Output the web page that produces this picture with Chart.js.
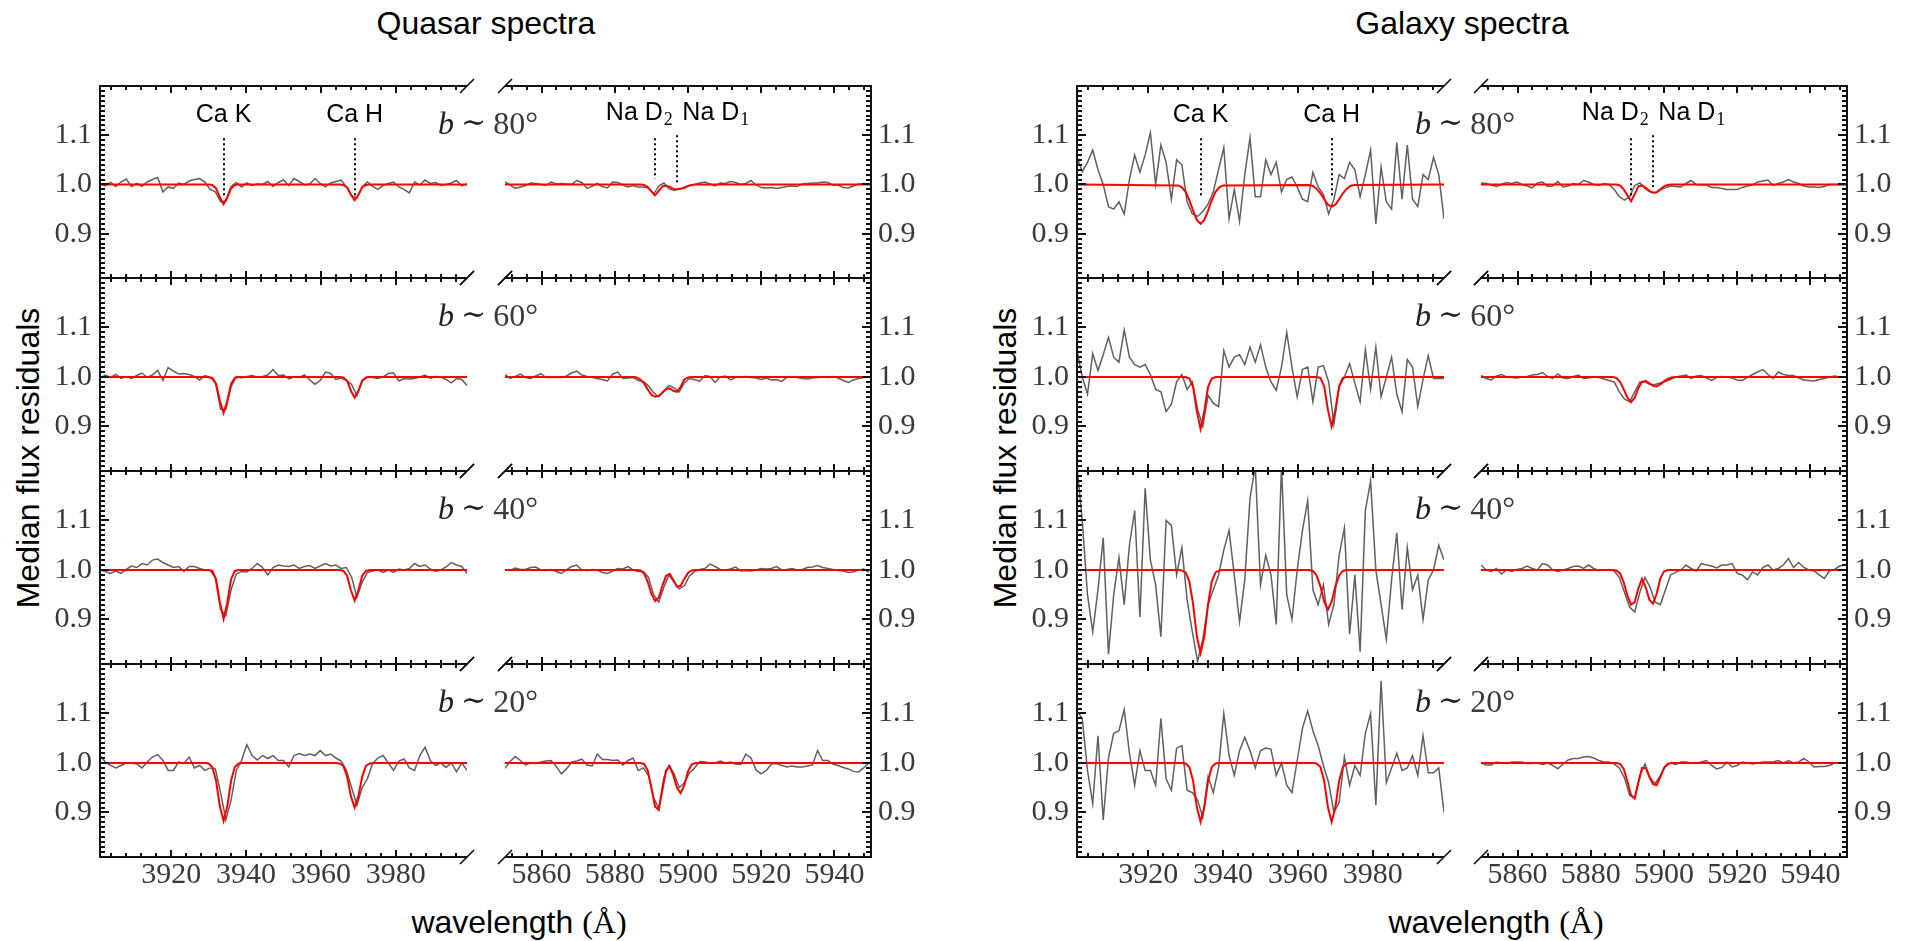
<!DOCTYPE html>
<html lang="en">
<head>
<meta charset="utf-8">
<title>Median flux residuals - quasar and galaxy spectra</title>
<script src="https://cdn.jsdelivr.net/npm/chart.js@4.4.1/dist/chart.umd.min.js"></script>
<style>
  html, body { margin: 0; padding: 0; background: #fff; }
  #figure { position: relative; width: 1911px; height: 941px; overflow: hidden; background: #fff; }
  #figure canvas { position: absolute; }
  .label { position: absolute; font-family: "Liberation Sans", Arial, sans-serif; font-size: 32px; line-height: 32px; color: #000; white-space: nowrap; }
  .centered { transform: translateX(-50%); }
  .ylabel { transform: translate(-50%, -50%) rotate(-90deg); }
  .serif { font-family: "Liberation Serif", "DejaVu Serif", serif; }
</style>
</head>
<body>
<div id="figure">
  <div class="label centered" style="left:486px; top:7px">Quasar spectra</div>
  <div class="label centered" style="left:1462px; top:7px">Galaxy spectra</div>
  <div class="label ylabel" style="left:28px; top:458px">Median flux residuals</div>
  <div class="label ylabel" style="left:1005px; top:458px">Median flux residuals</div>
  <div class="label centered" style="left:519px; top:906px">wavelength <span class="serif">(Å)</span></div>
  <div class="label centered" style="left:1496px; top:906px">wavelength <span class="serif">(Å)</span></div>
</div>
<script>
// wavelength grids (Å) of the stacked residual spectra
const caWave = [3901.0, 3902.4, 3903.8, 3905.2, 3906.6, 3908.0, 3909.4, 3910.8, 3912.2, 3913.6,
  3915.0, 3916.4, 3917.8, 3919.2, 3920.6, 3922.0, 3923.4, 3924.8, 3926.2, 3927.6,
  3929.0, 3930.4, 3931.8, 3933.2, 3934.6, 3936.0, 3937.4, 3938.8, 3940.2, 3941.6,
  3943.0, 3944.4, 3945.8, 3947.2, 3948.6, 3950.0, 3951.4, 3952.8, 3954.2, 3955.6,
  3957.0, 3958.4, 3959.8, 3961.2, 3962.6, 3964.0, 3965.4, 3966.8, 3968.2, 3969.6,
  3971.0, 3972.4, 3973.8, 3975.2, 3976.6, 3978.0, 3979.4, 3980.8, 3982.2, 3983.6,
  3985.0, 3986.4, 3987.8, 3989.2, 3990.6, 3992.0, 3993.4, 3994.8, 3996.2, 3997.6,
  3999.0];
const naWave = [5850.0, 5851.4, 5852.8, 5854.2, 5855.6, 5857.0, 5858.4, 5859.8, 5861.2, 5862.6,
  5864.0, 5865.4, 5866.8, 5868.2, 5869.6, 5871.0, 5872.4, 5873.8, 5875.2, 5876.6,
  5878.0, 5879.4, 5880.8, 5882.2, 5883.6, 5885.0, 5886.4, 5887.8, 5889.2, 5890.6,
  5892.0, 5893.4, 5894.8, 5896.2, 5897.6, 5899.0, 5900.4, 5901.8, 5903.2, 5904.6,
  5906.0, 5907.4, 5908.8, 5910.2, 5911.6, 5913.0, 5914.4, 5915.8, 5917.2, 5918.6,
  5920.0, 5921.4, 5922.8, 5924.2, 5925.6, 5927.0, 5928.4, 5929.8, 5931.2, 5932.6,
  5934.0, 5935.4, 5936.8, 5938.2, 5939.6, 5941.0, 5942.4, 5943.8, 5945.2, 5946.6,
  5948.0, 5949.4];

// wavelengths where the absorption model is sampled
const caFitWave = [3901, 3928, 3929, 3930, 3931, 3932, 3933, 3934, 3935, 3936, 3937, 3938, 3939, 3940,
  3963, 3964, 3965, 3966, 3967, 3968, 3969, 3970, 3971, 3972, 3973, 3974, 3975, 3999];
const naFitWave = [5850, 5884, 5885, 5886, 5887, 5888, 5889, 5890, 5891, 5892, 5893, 5894,
  5895, 5896, 5897, 5898, 5899, 5900, 5901, 5902, 5903, 5904, 5950];

// axis ticks and panel annotations
const caMajorTicks = [3920, 3940, 3960, 3980];
const naMajorTicks = [5860, 5880, 5900, 5920, 5940];
const fluxMajorTicks = [0.9, 1.0, 1.1];
const latitudes = ['80°', '60°', '40°', '20°'];
const caLineNames = ['Ca K', 'Ca H'];
const caLineWave = [3934, 3969];
const naLineNames = [['Na D', '2'], ['Na D', '1']];
const naLineWave = [5891, 5897];
const naLabelWave = [5886.7, 5907.6];

// ---- quasar residuals ----
const qsoCa80 = [1.002, 0.997, 1.004, 0.996, 1.005, 1.011, 0.996, 1.002, 0.996, 1.005,
  1.010, 1.014, 0.985, 0.995, 0.992, 1.003, 1.000, 1.007, 1.010, 1.012,
  1.005, 0.990, 0.985, 0.965, 0.966, 0.996, 1.004, 0.995, 1.003, 0.998,
  1.001, 1.000, 1.006, 0.996, 1.004, 1.009, 0.998, 1.012, 1.006, 0.999,
  1.001, 1.012, 1.002, 0.995, 1.003, 1.006, 1.009, 0.995, 0.978, 0.972,
  0.995, 1.005, 0.996, 0.990, 0.998, 1.002, 1.005, 0.995, 0.990, 0.983,
  1.005, 0.999, 1.009, 1.002, 1.004, 0.998, 1.000, 1.003, 1.008, 0.997,
  1.001];
const qsoCa60 = [0.997, 1.004, 0.999, 1.005, 0.997, 1.001, 0.997, 1.003, 1.008, 0.999,
  1.004, 1.013, 0.993, 1.019, 1.012, 1.006, 1.007, 1.005, 1.001, 0.994,
  1.003, 0.999, 0.990, 0.935, 0.935, 0.980, 1.001, 0.998, 1.001, 1.003,
  1.000, 1.001, 1.004, 1.015, 1.003, 1.004, 0.996, 1.000, 0.999, 1.004,
  0.994, 0.985, 0.993, 1.010, 1.007, 0.995, 0.998, 0.993, 0.985, 0.962,
  0.992, 1.000, 0.999, 0.997, 1.000, 1.007, 1.008, 0.992, 0.997, 0.996,
  0.997, 1.000, 1.004, 0.997, 1.001, 1.000, 0.995, 0.988, 0.997, 0.995,
  0.983];
const qsoCa40 = [1.000, 0.997, 0.993, 0.998, 0.993, 1.001, 1.008, 1.005, 1.013, 1.010,
  1.020, 1.022, 1.015, 1.010, 1.005, 1.007, 0.997, 1.007, 1.007, 1.003,
  1.000, 0.999, 0.985, 0.920, 0.908, 0.960, 0.992, 0.997, 0.996, 1.003,
  1.013, 1.005, 0.990, 1.005, 1.010, 1.008, 1.007, 1.010, 1.003, 1.007,
  1.009, 1.003, 1.008, 1.013, 1.008, 1.010, 1.003, 1.005, 0.985, 0.945,
  0.975, 0.995, 0.998, 1.000, 0.995, 1.000, 0.995, 1.002, 1.000, 1.003,
  1.013, 1.007, 1.010, 1.002, 0.997, 1.000, 1.006, 1.015, 1.010, 1.007,
  0.993];
const qsoCa20 = [1.015, 1.002, 0.995, 0.990, 0.995, 1.000, 1.000, 0.998, 0.990, 1.002,
  1.012, 1.017, 1.005, 0.985, 0.985, 1.002, 0.999, 1.012, 0.990, 0.995,
  0.985, 0.990, 0.988, 0.940, 0.885, 0.925, 0.985, 1.005, 1.037, 1.015,
  1.006, 1.015, 1.009, 1.015, 1.005, 1.005, 0.992, 1.015, 1.019, 1.015,
  1.018, 1.015, 1.025, 1.015, 1.018, 1.010, 1.004, 0.985, 0.950, 0.915,
  0.950, 0.968, 0.999, 1.010, 1.015, 1.000, 0.985, 1.004, 1.008, 0.990,
  0.985, 1.015, 1.032, 1.005, 0.995, 1.000, 0.991, 1.000, 0.982, 1.000,
  0.985];
const qsoNa80 = [1.005, 0.999, 0.992, 0.995, 0.998, 1.003, 1.002, 1.000, 0.998, 1.005,
  1.001, 1.002, 1.001, 1.000, 1.008, 1.004, 0.992, 0.996, 1.002, 0.996,
  0.993, 1.005, 1.004, 0.999, 0.995, 0.998, 0.995, 0.995, 0.993, 0.980,
  0.997, 1.003, 0.991, 0.988, 0.992, 0.992, 0.998, 1.000, 1.003, 1.005,
  1.001, 0.997, 1.003, 1.002, 1.006, 1.004, 1.000, 1.002, 1.008, 0.999,
  0.994, 0.993, 0.994, 0.992, 0.994, 0.996, 0.997, 0.996, 1.001, 1.002,
  1.003, 1.003, 1.005, 1.004, 0.999, 0.999, 0.994, 0.993, 0.997, 1.001,
  1.001, 1.002];
const qsoNa60 = [1.005, 0.997, 1.001, 1.006, 0.999, 0.997, 1.002, 1.007, 0.999, 0.999,
  0.999, 0.999, 1.002, 1.008, 1.012, 1.004, 1.001, 0.999, 0.997, 0.995,
  0.992, 1.006, 1.010, 0.997, 0.998, 0.999, 0.993, 0.991, 0.982, 0.968,
  0.960, 0.972, 0.983, 0.978, 0.970, 0.988, 0.997, 0.995, 0.991, 1.003,
  1.001, 0.989, 1.000, 1.002, 0.994, 0.999, 1.000, 1.001, 0.999, 0.998,
  0.995, 0.998, 0.994, 0.995, 0.991, 0.999, 1.001, 0.999, 0.997, 0.996,
  0.998, 0.999, 1.000, 0.999, 1.001, 0.998, 0.993, 0.989, 0.994, 0.997,
  0.999, 1.000];
const qsoNa40 = [1.000, 0.999, 1.004, 1.001, 1.001, 1.005, 1.006, 1.000, 0.999, 1.001,
  0.997, 0.993, 1.000, 1.007, 1.010, 1.000, 0.999, 1.001, 1.000, 0.995,
  0.993, 0.998, 1.003, 1.002, 1.007, 1.000, 0.997, 0.997, 0.985, 0.950,
  0.935, 0.965, 0.990, 0.975, 0.962, 0.968, 0.988, 0.997, 1.001, 1.003,
  1.012, 1.007, 1.001, 1.000, 1.002, 1.006, 0.998, 0.999, 0.998, 1.000,
  1.003, 1.002, 1.003, 1.007, 1.000, 1.001, 1.003, 1.000, 1.001, 1.005,
  1.006, 1.009, 1.005, 1.003, 1.001, 0.999, 0.998, 0.995, 0.996, 1.000,
  1.002, 0.995];
const qsoNa20 = [0.989, 1.003, 1.013, 1.005, 0.996, 1.000, 0.999, 1.002, 1.004, 1.005,
  0.993, 0.978, 0.988, 1.002, 1.004, 1.008, 0.996, 0.994, 1.018, 1.007,
  1.007, 1.005, 1.006, 0.996, 1.005, 1.010, 0.985, 0.990, 0.975, 0.930,
  0.908, 0.970, 0.995, 0.978, 0.950, 0.960, 0.980, 0.990, 1.003, 1.002,
  1.000, 1.000, 1.004, 1.000, 1.002, 0.998, 0.997, 1.018, 1.010, 0.986,
  0.978, 0.985, 0.998, 0.999, 0.995, 0.992, 0.994, 0.992, 0.992, 0.994,
  0.996, 1.025, 1.005, 1.005, 0.998, 0.995, 0.991, 0.988, 0.983, 0.982,
  0.990, 1.000];

// model fits for the quasar stacks
const qsoFitCa80 = [1, 1, 1, 1, 0.999, 0.992, 0.974, 0.960, 0.974, 0.992, 0.999, 1, 1, 1,
  1, 1, 1, 0.999, 0.994, 0.979, 0.968, 0.979, 0.994, 0.999, 1, 1, 1, 1];
const qsoFitCa60 = [1, 1, 1, 1, 0.998, 0.986, 0.952, 0.927, 0.952, 0.986, 0.998, 1, 1, 1,
  1, 1, 1, 0.999, 0.992, 0.972, 0.958, 0.972, 0.992, 0.999, 1, 1, 1, 1];
const qsoFitCa40 = [1, 1, 1, 1, 0.998, 0.981, 0.935, 0.901, 0.935, 0.981, 0.998, 1, 1, 1,
  1, 1, 1, 0.998, 0.988, 0.959, 0.938, 0.959, 0.988, 0.998, 1, 1, 1, 1];
const qsoFitCa20 = [1, 1, 1, 0.999, 0.992, 0.964, 0.913, 0.883, 0.913, 0.964, 0.992, 0.999, 1, 1,
  1, 1, 0.999, 0.994, 0.972, 0.933, 0.910, 0.933, 0.972, 0.994, 0.999, 1, 1, 1];
const qsoFitNa80 = [1, 1, 1, 1, 1, 0.999, 0.995, 0.986, 0.978, 0.987, 0.996, 0.998,
  0.995, 0.991, 0.990, 0.991, 0.994, 0.997, 0.999, 1, 1, 1, 1];
const qsoFitNa60 = [1, 1, 1, 0.999, 0.995, 0.987, 0.975, 0.964, 0.960, 0.962, 0.968, 0.975,
  0.977, 0.972, 0.970, 0.980, 0.995, 0.999, 1, 1, 1, 1, 1];
const qsoFitNa40 = [1, 1, 1, 1, 0.999, 0.993, 0.976, 0.952, 0.937, 0.944, 0.968, 0.988,
  0.992, 0.980, 0.966, 0.968, 0.982, 0.994, 0.999, 1, 1, 1, 1];
const qsoFitNa20 = [1, 1, 1, 1, 1, 0.998, 0.985, 0.950, 0.912, 0.905, 0.945, 0.985,
  0.993, 0.975, 0.950, 0.939, 0.955, 0.983, 0.997, 1, 1, 1, 1];

// ---- galaxy residuals ----
const galCa80 = [1.056, 1.026, 1.045, 1.070, 1.030, 1.000, 0.955, 0.950, 0.965, 0.940,
  1.010, 1.060, 1.025, 1.060, 1.105, 1.000, 1.080, 1.045, 0.970, 1.050,
  1.040, 0.965, 0.940, 0.935, 0.945, 0.960, 0.985, 1.030, 1.075, 0.930,
  0.990, 0.925, 1.020, 1.095, 0.975, 0.975, 1.050, 1.020, 1.045, 0.985,
  1.010, 1.015, 0.995, 0.970, 0.965, 1.025, 0.995, 0.980, 0.940, 0.970,
  1.020, 1.012, 1.045, 1.030, 0.975, 1.020, 1.070, 0.920, 1.035, 0.965,
  0.950, 1.085, 0.970, 1.080, 0.970, 0.955, 1.020, 1.010, 1.055, 1.020,
  0.930];
const galCa60 = [1.053, 1.000, 0.965, 1.047, 1.013, 1.045, 1.080, 1.040, 1.030, 1.095,
  1.040, 1.025, 1.020, 1.025, 1.005, 0.975, 0.970, 0.930, 0.945, 0.990,
  1.005, 0.975, 0.990, 0.935, 0.900, 0.963, 0.947, 0.940, 1.053, 1.020,
  1.040, 1.045, 1.025, 1.060, 1.030, 1.065, 1.020, 0.990, 0.973, 1.020,
  1.090, 1.020, 0.960, 1.015, 1.020, 0.950, 1.020, 1.023, 0.990, 0.905,
  0.980, 1.000, 1.027, 0.987, 0.950, 1.055, 0.975, 1.060, 0.960, 1.000,
  1.040, 0.965, 0.930, 1.035, 1.020, 0.940, 0.995, 1.043, 0.997, 0.997,
  0.997];
const galCa40 = [1.210, 1.100, 0.950, 0.875, 0.960, 1.065, 0.830, 0.950, 1.025, 0.930,
  1.050, 1.120, 0.905, 1.165, 1.020, 0.970, 0.865, 1.100, 1.090, 0.990,
  1.045, 0.940, 0.875, 0.815, 0.860, 0.930, 0.960, 0.990, 1.040, 1.080,
  0.990, 0.895, 0.980, 1.145, 1.210, 0.970, 1.030, 0.990, 0.890, 1.210,
  0.950, 0.900, 1.000, 1.080, 1.140, 0.960, 0.930, 0.970, 0.890, 0.930,
  1.030, 1.085, 0.870, 0.990, 0.835, 1.120, 1.180, 1.000, 0.930, 0.860,
  0.980, 1.075, 0.920, 1.045, 0.960, 0.990, 0.900, 0.980, 1.000, 1.050,
  1.020];
const galCa20 = [1.105, 1.090, 0.985, 0.918, 1.055, 0.885, 1.010, 1.060, 1.065, 1.108,
  1.020, 0.955, 1.025, 0.985, 0.985, 0.955, 1.090, 0.968, 0.945, 1.030,
  1.035, 0.945, 0.940, 0.925, 0.890, 0.972, 0.940, 0.990, 1.100, 1.015,
  0.975, 1.025, 1.052, 1.025, 0.990, 1.025, 1.030, 1.028, 0.975, 1.000,
  0.955, 0.940, 1.005, 1.070, 1.105, 1.065, 1.035, 0.995, 0.960, 0.900,
  0.920, 1.012, 0.955, 0.995, 0.975, 1.060, 1.100, 0.915, 1.166, 0.960,
  0.990, 1.020, 0.985, 0.990, 1.015, 0.975, 1.055, 0.980, 0.980, 0.990,
  0.900];
const galNa80 = [1.003, 1.002, 0.999, 0.996, 1.000, 1.004, 1.002, 1.005, 1.000, 0.997,
  0.993, 1.003, 1.005, 0.996, 0.997, 1.006, 0.995, 0.997, 1.002, 1.000,
  1.008, 1.005, 1.000, 0.998, 1.002, 1.000, 0.990, 0.975, 0.968, 0.975,
  0.998, 1.003, 0.992, 0.985, 0.983, 0.989, 0.993, 0.997, 0.996, 0.995,
  1.002, 1.008, 1.000, 0.999, 0.999, 0.994, 0.994, 0.992, 0.990, 0.990,
  0.990, 0.994, 0.997, 0.999, 1.005, 1.007, 1.009, 0.998, 1.002, 1.005,
  1.010, 1.005, 1.002, 0.997, 0.995, 0.995, 0.994, 0.996, 1.000, 1.000,
  1.000, 1.000];
const galNa60 = [1.003, 0.997, 0.994, 1.002, 1.005, 1.000, 0.999, 0.998, 1.000, 1.001,
  1.004, 1.005, 1.009, 1.001, 0.997, 1.006, 0.998, 0.997, 1.001, 1.004,
  0.997, 0.998, 1.000, 0.999, 0.996, 0.993, 0.990, 0.970, 0.955, 0.950,
  0.970, 0.990, 0.990, 0.985, 0.985, 0.988, 0.991, 0.995, 1.000, 1.002,
  1.004, 0.997, 1.002, 1.003, 0.998, 0.993, 0.999, 1.001, 1.000, 0.998,
  0.994, 0.993, 0.999, 1.005, 1.010, 1.015, 1.005, 0.997, 1.010, 1.005,
  1.003, 1.003, 0.998, 0.994, 0.993, 0.992, 0.995, 0.997, 1.000, 1.002,
  1.000, 1.000];
const galNa40 = [1.010, 1.000, 0.997, 1.003, 0.992, 1.000, 0.997, 1.001, 1.003, 1.008,
  1.003, 1.000, 1.013, 1.010, 1.000, 0.997, 1.000, 1.003, 1.007, 1.008,
  1.003, 1.010, 1.003, 0.999, 1.000, 1.001, 0.998, 0.985, 0.955, 0.925,
  0.915, 0.955, 0.985, 0.965, 0.935, 0.930, 0.960, 0.990, 0.995, 1.000,
  1.010, 1.003, 0.998, 1.013, 1.010, 1.008, 1.004, 1.010, 1.010, 1.013,
  0.993, 0.990, 0.980, 0.996, 0.990, 1.005, 1.010, 1.000, 1.003, 1.010,
  1.023, 1.005, 1.015, 1.005, 1.000, 0.998, 0.990, 0.983, 0.998, 1.001,
  1.008, 1.010];
const galNa20 = [1.000, 0.996, 0.996, 1.002, 1.000, 0.999, 1.002, 1.002, 1.002, 0.999,
  0.999, 1.000, 0.997, 1.000, 0.995, 0.988, 0.998, 1.006, 1.009, 1.009,
  1.012, 1.013, 1.010, 1.005, 1.002, 1.002, 0.998, 0.990, 0.970, 0.935,
  0.930, 0.975, 0.998, 0.970, 0.958, 0.975, 0.993, 1.000, 0.997, 1.002,
  1.002, 1.000, 1.000, 1.002, 1.005, 0.995, 0.988, 0.991, 1.002, 0.992,
  0.995, 1.002, 1.000, 0.998, 1.000, 1.002, 1.002, 1.002, 1.005, 1.000,
  1.005, 1.000, 1.002, 1.009, 1.002, 0.992, 0.993, 0.993, 0.995, 1.000,
  1.000, 1.000];

// model fits for the galaxy stacks
const galFitCa80 = [1, 0.998, 0.994, 0.985, 0.968, 0.947, 0.928, 0.920, 0.928, 0.947, 0.968, 0.985, 0.994, 0.998,
  0.999, 0.997, 0.991, 0.982, 0.970, 0.959, 0.955, 0.959, 0.970, 0.982, 0.991, 0.997, 0.999, 1];
const galFitCa60 = [1, 1, 1, 1, 0.997, 0.980, 0.931, 0.895, 0.931, 0.980, 0.997, 1, 1, 1,
  1, 1, 1, 0.998, 0.981, 0.934, 0.900, 0.934, 0.981, 0.998, 1, 1, 1, 1];
const galFitCa40 = [1, 1, 0.999, 0.995, 0.977, 0.931, 0.866, 0.832, 0.866, 0.931, 0.977, 0.995, 0.999, 1,
  1, 0.998, 0.989, 0.967, 0.936, 0.920, 0.936, 0.967, 0.989, 0.998, 1, 1, 1, 1];
const galFitCa20 = [1, 1, 1, 0.999, 0.992, 0.964, 0.911, 0.881, 0.911, 0.964, 0.992, 0.999, 1, 1,
  1, 1, 0.999, 0.992, 0.964, 0.911, 0.881, 0.911, 0.964, 0.992, 0.999, 1, 1, 1];
const galFitNa80 = [1, 1, 1, 1, 1, 0.998, 0.990, 0.978, 0.966, 0.980, 0.996, 0.998,
  0.993, 0.987, 0.983, 0.984, 0.990, 0.996, 0.999, 1, 1, 1, 1];
const galFitNa60 = [1, 1, 1, 1, 0.998, 0.990, 0.975, 0.958, 0.949, 0.958, 0.978, 0.990,
  0.992, 0.987, 0.982, 0.981, 0.985, 0.991, 0.996, 0.999, 1, 1, 1];
const galFitNa40 = [1, 1, 1, 1, 0.999, 0.993, 0.975, 0.948, 0.930, 0.935, 0.963, 0.982,
  0.965, 0.940, 0.932, 0.952, 0.983, 0.997, 1, 1, 1, 1, 1];
const galFitNa20 = [1, 1, 1, 1, 1, 0.998, 0.988, 0.963, 0.935, 0.928, 0.960, 0.990,
  0.990, 0.972, 0.957, 0.955, 0.972, 0.990, 0.998, 1, 1, 1, 1];

// page layout (pixels)
const rowEdges = [86, 278, 471, 664, 857];
const CA_SPAN = 367, NA_SPAN = 366;
const MARGIN_X = 100, MARGIN_TOP = 30, MARGIN_BOTTOM = 60;
const SERIF = '"Liberation Serif", "DejaVu Serif", serif';
const SANS = '"Liberation Sans", Arial, sans-serif';

const groups = [
  {
    caLeft: 100, naLeft: 505,
    caFlux: [qsoCa80, qsoCa60, qsoCa40, qsoCa20], naFlux: [qsoNa80, qsoNa60, qsoNa40, qsoNa20],
    caFit: [qsoFitCa80, qsoFitCa60, qsoFitCa40, qsoFitCa20], naFit: [qsoFitNa80, qsoFitNa60, qsoFitNa40, qsoFitNa20],
    caDot: [[1.094, 0.973], [1.094, 0.973]], naDot: [[1.094, 1.012], [1.100, 1.002]]
  },
  {
    caLeft: 1077, naLeft: 1481,
    caFlux: [galCa80, galCa60, galCa40, galCa20], naFlux: [galNa80, galNa60, galNa40, galNa20],
    caFit: [galFitCa80, galFitCa60, galFitCa40, galFitCa20], naFit: [galFitNa80, galFitNa60, galFitNa40, galFitNa20],
    caDot: [[1.094, 0.978], [1.094, 0.975]], naDot: [[1.094, 0.975], [1.100, 0.995]]
  }
];

function isMajorFlux(v) {
  return fluxMajorTicks.some(m => Math.abs(m - v) < 1e-6);
}

function toPoints(wave, flux) {
  return wave.map((x, i) => ({ x: x, y: flux[i] }));
}

// minor ticks every 4 Å, majors every 20 Å
function wavelengthTicks(min, max) {
  const ticks = [];
  for (let v = Math.ceil(min / 4) * 4; v <= max; v += 4) ticks.push({ value: v });
  return ticks;
}

// minor ticks every 0.01 in flux
function fluxTicks() {
  const ticks = [];
  for (let k = 82; k <= 119; k++) ticks.push({ value: k / 100 });
  return ticks;
}

// frame, inward ticks, axis breaks and labels
const spectrumFrame = {
  id: 'spectrumFrame',
  afterDatasetsDraw(chart, args, o) {
    const ctx = chart.ctx;
    const a = chart.chartArea;
    const xs = chart.scales.x, ys = chart.scales.y;
    const sideX = o.side === 'left' ? a.left : a.right;
    const cutX = o.side === 'left' ? a.right : a.left;
    ctx.save();
    ctx.strokeStyle = '#111';
    ctx.lineWidth = 2;

    ctx.beginPath();
    ctx.moveTo(a.left, a.top); ctx.lineTo(a.right, a.top);
    ctx.moveTo(a.left, a.bottom); ctx.lineTo(a.right, a.bottom);
    ctx.moveTo(sideX, a.top - 1); ctx.lineTo(sideX, a.bottom + 1);
    ctx.stroke();

    ctx.beginPath();
    xs.ticks.forEach(t => {
      const px = Math.round(xs.getPixelForValue(t.value));
      const len = o.majorX.includes(t.value) ? 7 : 4;
      ctx.moveTo(px, a.bottom); ctx.lineTo(px, a.bottom - len);
      ctx.moveTo(px, a.top); ctx.lineTo(px, a.top + len);
    });
    const dir = o.side === 'left' ? 1 : -1;
    ys.ticks.forEach(t => {
      const py = Math.round(ys.getPixelForValue(t.value));
      const len = isMajorFlux(t.value) ? 9 : 5;
      ctx.moveTo(sideX, py); ctx.lineTo(sideX + dir * len, py);
    });
    ctx.stroke();

    // diagonal marks where the wavelength axis is broken
    ctx.lineWidth = 1.6;
    ctx.beginPath();
    [a.top, a.bottom].forEach(py => {
      ctx.moveTo(cutX - 7, py + 7); ctx.lineTo(cutX + 7, py - 7);
    });
    ctx.stroke();

    // galactic latitude of the stack
    if (o.lat) {
      let x0 = a.right - 29;
      const base = a.top + 48;
      ctx.textAlign = 'left';
      ctx.textBaseline = 'alphabetic';
      ctx.fillStyle = '#222';
      ctx.font = 'italic 32px ' + SERIF;
      ctx.fillText('b', x0, base);
      x0 += ctx.measureText('b').width + 7;
      ctx.font = '30px ' + SERIF;
      ctx.fillText('∼', x0, base - 2);
      x0 += ctx.measureText('∼').width + 7;
      ctx.fillStyle = '#3a3a3a';
      ctx.font = '32px ' + SERIF;
      ctx.fillText(o.lat, x0, base);
    }

    // absorption line markers (top row only)
    if (o.marks) {
      const m = o.marks;
      ctx.strokeStyle = '#000';
      ctx.lineWidth = 2;
      ctx.setLineDash([2, 3]);
      ctx.beginPath();
      m.wave.forEach((w, i) => {
        const px = Math.round(xs.getPixelForValue(w));
        ctx.moveTo(px, ys.getPixelForValue(m.dot[i][0]));
        ctx.lineTo(px, ys.getPixelForValue(m.dot[i][1]));
      });
      ctx.stroke();
      ctx.setLineDash([]);

      ctx.fillStyle = '#000';
      ctx.textBaseline = 'middle';
      const ly = ys.getPixelForValue(m.labelY);
      m.names.forEach((name, i) => {
        const cx = xs.getPixelForValue(m.labelWave[i]);
        if (typeof name === 'string') {
          ctx.textAlign = 'center';
          ctx.font = '25px ' + SANS;
          ctx.fillText(name, cx, ly);
        } else {
          ctx.font = '25px ' + SANS;
          const w1 = ctx.measureText(name[0]).width;
          ctx.font = '18px ' + SERIF;
          const w2 = ctx.measureText(name[1]).width;
          const x0 = cx - (w1 + 1 + w2) / 2;
          ctx.textAlign = 'left';
          ctx.font = '25px ' + SANS;
          ctx.fillText(name[0], x0, ly);
          ctx.font = '18px ' + SERIF;
          ctx.fillText(name[1], x0 + w1 + 1, ly + 7);
        }
      });
    }
    ctx.restore();
  }
};

function buildPanel(cfg) {
  const canvas = document.createElement('canvas');
  const w = cfg.span + 2 * MARGIN_X;
  const h = cfg.height + MARGIN_TOP + MARGIN_BOTTOM;
  canvas.width = w;
  canvas.height = h;
  canvas.style.left = (cfg.left - MARGIN_X) + 'px';
  canvas.style.top = (cfg.top - MARGIN_TOP) + 'px';
  canvas.style.width = w + 'px';
  canvas.style.height = h + 'px';
  document.getElementById('figure').appendChild(canvas);

  const padding = cfg.side === 'left'
    ? { left: 0, right: MARGIN_X, top: MARGIN_TOP, bottom: 0 }
    : { left: MARGIN_X, right: 0, top: MARGIN_TOP, bottom: 0 };

  return new Chart(canvas, {
    type: 'line',
    data: {
      datasets: [
        { data: toPoints(cfg.fitWave, cfg.fit), borderColor: '#ff0000', borderWidth: 2, pointRadius: 0, tension: 0 },
        { data: toPoints(cfg.wave, cfg.flux), borderColor: '#606060', borderWidth: 1.5, pointRadius: 0, tension: 0 }
      ]
    },
    options: {
      responsive: false,
      animation: false,
      events: [],
      layout: { padding: padding },
      plugins: {
        legend: { display: false },
        tooltip: { enabled: false },
        spectrumFrame: { side: cfg.side, majorX: cfg.majorX, lat: cfg.lat, marks: cfg.marks }
      },
      scales: {
        x: {
          type: 'linear', position: 'bottom', min: cfg.xMin, max: cfg.xMax,
          grid: { display: false, drawTicks: false },
          border: { display: false },
          afterBuildTicks: s => { s.ticks = wavelengthTicks(s.min, s.max); },
          afterFit: s => { s.height = MARGIN_BOTTOM; },
          ticks: {
            display: cfg.showX, autoSkip: false, maxRotation: 0, minRotation: 0, padding: 0,
            color: '#3a3a3a', font: { family: SERIF, size: 30 },
            callback: v => cfg.majorX.includes(v) ? String(v) : ''
          }
        },
        y: {
          type: 'linear', position: cfg.side, min: 0.81, max: 1.2,
          grid: { display: false, drawTicks: false },
          border: { display: false },
          afterBuildTicks: s => { s.ticks = fluxTicks(); },
          afterFit: s => { s.width = MARGIN_X; },
          ticks: {
            autoSkip: false, padding: cfg.side === 'left' ? 8 : 7,
            color: '#3a3a3a', font: { family: SERIF, size: 30 },
            callback: v => isMajorFlux(v) ? v.toFixed(1) : ''
          }
        }
      }
    },
    plugins: [spectrumFrame]
  });
}

groups.forEach(g => {
  for (let r = 0; r < 4; r++) {
    const top = rowEdges[r];
    const height = rowEdges[r + 1] - rowEdges[r];
    buildPanel({
      side: 'left', left: g.caLeft, span: CA_SPAN, top: top, height: height,
      xMin: 3901, xMax: 3999, majorX: caMajorTicks,
      wave: caWave, flux: g.caFlux[r], fitWave: caFitWave, fit: g.caFit[r],
      showX: r === 3, lat: latitudes[r],
      marks: r === 0 ? { names: caLineNames, wave: caLineWave, labelWave: caLineWave, dot: g.caDot, labelY: 1.141 } : null
    });
    buildPanel({
      side: 'right', left: g.naLeft, span: NA_SPAN, top: top, height: height,
      xMin: 5850, xMax: 5950, majorX: naMajorTicks,
      wave: naWave, flux: g.naFlux[r], fitWave: naFitWave, fit: g.naFit[r],
      showX: r === 3, lat: null,
      marks: r === 0 ? { names: naLineNames, wave: naLineWave, labelWave: naLabelWave, dot: g.naDot, labelY: 1.145 } : null
    });
  }
});
</script>
</body>
</html>
